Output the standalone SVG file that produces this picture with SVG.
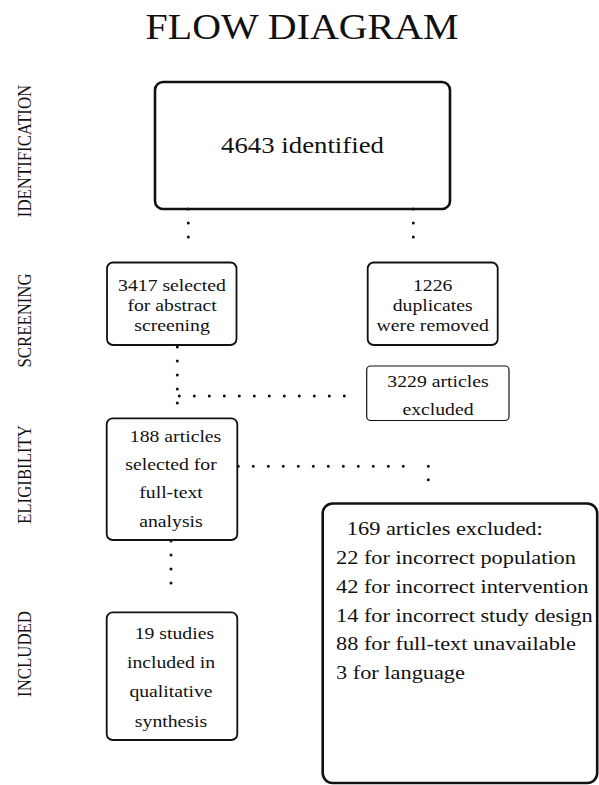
<svg xmlns="http://www.w3.org/2000/svg" width="599" height="785" viewBox="0 0 599 785">
<style>
  text { font-family: "Liberation Serif", "Times New Roman", serif; fill: #111; }
  .m { text-anchor: middle; }
  .box { fill: #fff; stroke: #111; }
  .thick { stroke-width: 2.6; }
  .mid { stroke-width: 1.8; }
  .thin { stroke-width: 1.2; }
  .side { font-size: 16.8px; text-anchor: middle; }
  .t17 { font-size: 17.3px; }
  .t20 { font-size: 19.6px; }
  .dots { fill: none; stroke: #111; stroke-width: 3; stroke-linecap: round; }
  .d14 { stroke-dasharray: 0 14; }
  .d15 { stroke-dasharray: 0 15; }
  .d135 { stroke-dasharray: 0 13.5; }
</style>
<rect width="599" height="785" fill="#fff"/>

<g id="title">
  <g transform="translate(302 0) scale(1.14 1)">
    <text class="m" x="0" y="39" font-size="35">FLOW DIAGRAM</text>
  </g>
</g>

<g id="stage-labels">
  <text class="side" transform="translate(31 151) rotate(-90) scale(1 1.14)">IDENTIFICATION</text>
  <text class="side" transform="translate(31 320.5) rotate(-90) scale(1 1.14)">SCREENING</text>
  <text class="side" transform="translate(31 474.5) rotate(-90) scale(1 1.14)">ELIGIBILITY</text>
  <text class="side" transform="translate(31 654) rotate(-90) scale(1 1.14)">INCLUDED</text>
</g>

<g id="identified">
  <rect class="box thick" x="155" y="82" width="295" height="127" rx="8"/>
  <g transform="translate(302.5 0) scale(1.14 1)">
    <text class="m" x="0" y="152.7" font-size="23.5">4643 identified</text>
  </g>
</g>

<g id="screened">
  <rect class="box mid" x="107" y="262.5" width="129.5" height="82.5" rx="6"/>
  <g transform="translate(172 0) scale(1.14 1)" class="t17">
    <text class="m" x="0" y="290.7">3417 selected</text>
    <text class="m" x="0" y="310.7">for abstract</text>
    <text class="m" x="0" y="330.7">screening</text>
  </g>
</g>

<g id="duplicates">
  <rect class="box mid" x="367.7" y="262.5" width="130" height="82.5" rx="6"/>
  <g transform="translate(432.7 0) scale(1.14 1)" class="t17">
    <text class="m" x="0" y="290.7">1226</text>
    <text class="m" x="0" y="310.7">duplicates</text>
    <text class="m" x="0" y="330.7">were removed</text>
  </g>
</g>

<g id="excluded-abstract">
  <rect class="box thin" x="366.7" y="366" width="142.3" height="54.5" rx="4"/>
  <g transform="translate(438 0) scale(1.14 1)" class="t17">
    <text class="m" x="0" y="387.3">3229 articles</text>
    <text class="m" x="0" y="415">excluded</text>
  </g>
</g>

<g id="fulltext">
  <rect class="box mid" x="106.7" y="418.3" width="130.6" height="121.7" rx="6"/>
  <g transform="translate(171 0) scale(1.14 1)" class="t17">
    <text class="m" x="4" y="441.7">188 articles</text>
    <text class="m" x="0" y="470">selected for</text>
    <text class="m" x="0" y="498.3">full-text</text>
    <text class="m" x="0" y="526.7">analysis</text>
  </g>
</g>

<g id="included">
  <rect class="box mid" x="106.7" y="612.3" width="130.6" height="127.7" rx="6"/>
  <g transform="translate(171 0) scale(1.14 1)" class="t17">
    <text class="m" x="3" y="639">19 studies</text>
    <text class="m" x="0" y="668.3">included in</text>
    <text class="m" x="0" y="697.3">qualitative</text>
    <text class="m" x="0" y="726.7">synthesis</text>
  </g>
</g>

<g id="excluded-fulltext">
  <rect class="box thick" x="322.7" y="503.5" width="274.5" height="279.5" rx="10"/>
  <g transform="translate(336 0) scale(1.14 1)" class="t20">
    <text x="9.5" y="535">169 articles excluded:</text>
    <text x="0" y="564.3">22 for incorrect population</text>
    <text x="0" y="593.3">42 for incorrect intervention</text>
    <text x="0" y="621.7">14 for incorrect study design</text>
    <text x="0" y="650">88 for full-text unavailable</text>
    <text x="0" y="679">3 for language</text>
  </g>
</g>

<g id="connectors" class="dots">
  <path class="d14" d="M188.3 209 V251"/>
  <path class="d14" d="M413.3 209 V251"/>
  <path class="d14" d="M177.3 347 V417"/>
  <path class="d15" d="M179.3 396 H359.3"/>
  <path class="d14" d="M171 541 V597"/>
  <path class="d15" d="M238.3 466.3 H418.3"/>
  <path class="d135" d="M428.3 466.3 V493.3"/>
</g>
</svg>
